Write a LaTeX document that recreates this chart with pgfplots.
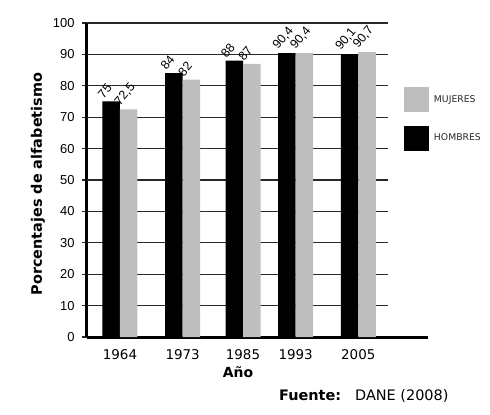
\documentclass[border=0pt]{standalone}
\usepackage{pgfplots}
\pgfplotsset{compat=1.18}
\usepackage{fontspec}
\setmainfont{DejaVu Sans}
\newfontfamily\lib{Liberation Sans}
\definecolor{bargray}{RGB}{190,190,190}
\definecolor{gridc}{RGB}{40,40,40}
\begin{document}
\begin{tikzpicture}
\useasboundingbox (-87bp,-78bp) rectangle (403bp,337bp);
\begin{axis}[
  at={(0,0)}, anchor=south west,
  scale only axis, width=341bp, height=314bp,
  xmin=0, xmax=341, ymin=0, ymax=100,
  clip=false,
  ybar=0pt, bar width=17.5bp,
  axis x line*=bottom, axis y line*=left,
  axis line style={line width=3bp, -},
  xtick={33,95.7,156,208.7,271.3},
  xticklabels={1964,1973,1985,1993,2005},
  x tick style={draw=none},
  ytick={0,10,...,100},
  y tick style={gridc, line width=1.2bp},
  tick align=outside, major tick length=5bp,
  /pgf/number format/assume math mode=true,
  /pgf/number format/use comma,
  /pgf/number format/1000 sep={},
  yticklabel style={font=\lib\fontsize{13}{13}\selectfont, xshift=-4bp},
  xticklabel style={font=\fontsize{13.5}{13.5}\selectfont, yshift=-4bp},
  ylabel={Porcentajes de alfabetismo},
  ylabel style={at={(axis description cs:-0.1437,0.487)}, anchor=center, font=\bfseries\fontsize{14.5}{14.5}\selectfont},
  xlabel={Año},
  xlabel style={at={(axis description cs:0.443,-0.1115)}, anchor=center, font=\bfseries\fontsize{14}{14}\selectfont},
  nodes near coords,
  every node near coord/.append style={font=\lib\fontsize{12.5}{12.5}\selectfont, xshift=-7.5bp, yshift=2bp, rotate=50, anchor=south west, inner sep=0pt, text=black},
  legend image code/.code={\fill[#1] (0bp,-12.5bp) rectangle (25bp,12.5bp);},
  reverse legend,
  legend cell align=left,
  legend style={at={(axis description cs:0.9296,0.796)}, anchor=north west, draw=none, fill=none, inner sep=0pt, outer sep=0pt, row sep=13.5bp, column sep=5bp, font=\fontsize{9.3}{9.3}\selectfont, text=black!85, nodes={inner sep=0pt}},
]
\pgfplotsinvokeforeach{10,20,...,100}{\draw[gridc, line width=1.2bp] (axis cs:0,#1) -- (axis cs:301,#1);}
\addplot[fill=black, draw=none] coordinates {(33,75) (95.7,84) (156,88) (208.7,90.4) (271.3,90.1)};
\addlegendentry{HOMBRES}
\addplot[fill=bargray, draw=none] coordinates {(33,72.5) (95.7,82) (156,87) (208.7,90.4) (271.3,90.7)};
\addlegendentry{MUJERES}
\node[anchor=west, font=\fontsize{14.5}{14.5}\selectfont, inner sep=0pt] at (axis description cs:0.563,-0.188) {{\bfseries Fuente:}\hspace{14bp}DANE (2008)};
\end{axis}
\end{tikzpicture}
\end{document}
